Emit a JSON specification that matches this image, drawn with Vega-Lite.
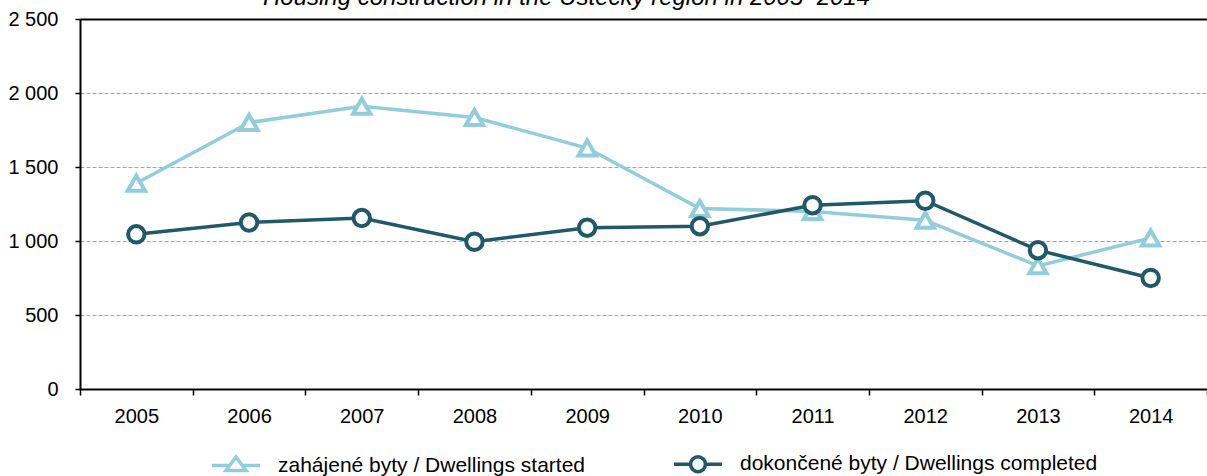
{
  "$schema": "https://vega.github.io/schema/vega-lite/v6.json",
  "autosize": "none",
  "padding": {"left": 80, "top": 19, "right": 0, "bottom": 87},
  "width": 1127,
  "height": 370,
  "background": "white",
  "config": {
    "font": "Liberation Sans",
    "view": {"stroke": null},
    "axis": {"labelFont": "Liberation Sans", "labelColor": "black", "labelFontSize": 20}
  },
  "title": {
    "text": "Housing construction in the Ústecký region in 2005–2014",
    "anchor": "start",
    "frame": "group",
    "dx": 183,
    "dy": 20,
    "offset": 0,
    "baseline": "alphabetic",
    "font": "Liberation Sans",
    "fontSize": 24,
    "fontStyle": "italic",
    "fontWeight": "normal",
    "color": "black"
  },
  "data": {
    "values": [
      {"year": "2005", "series": "zahájené byty / Dwellings started", "value": 1390},
      {"year": "2006", "series": "zahájené byty / Dwellings started", "value": 1800},
      {"year": "2007", "series": "zahájené byty / Dwellings started", "value": 1910},
      {"year": "2008", "series": "zahájené byty / Dwellings started", "value": 1835},
      {"year": "2009", "series": "zahájené byty / Dwellings started", "value": 1628},
      {"year": "2010", "series": "zahájené byty / Dwellings started", "value": 1220},
      {"year": "2011", "series": "zahájené byty / Dwellings started", "value": 1200},
      {"year": "2012", "series": "zahájené byty / Dwellings started", "value": 1140},
      {"year": "2013", "series": "zahájené byty / Dwellings started", "value": 832},
      {"year": "2014", "series": "zahájené byty / Dwellings started", "value": 1020},
      {"year": "2005", "series": "dokončené byty / Dwellings completed", "value": 1045},
      {"year": "2006", "series": "dokončené byty / Dwellings completed", "value": 1125},
      {"year": "2007", "series": "dokončené byty / Dwellings completed", "value": 1155},
      {"year": "2008", "series": "dokončené byty / Dwellings completed", "value": 995},
      {"year": "2009", "series": "dokončené byty / Dwellings completed", "value": 1090},
      {"year": "2010", "series": "dokončené byty / Dwellings completed", "value": 1100},
      {"year": "2011", "series": "dokončené byty / Dwellings completed", "value": 1242},
      {"year": "2012", "series": "dokončené byty / Dwellings completed", "value": 1272},
      {"year": "2013", "series": "dokončené byty / Dwellings completed", "value": 938},
      {"year": "2014", "series": "dokončené byty / Dwellings completed", "value": 750}
    ]
  },
  "encoding": {
    "x": {
      "field": "year", "type": "ordinal", "bandPosition": 0.5,
      "scale": {"type": "band", "paddingInner": 0, "paddingOuter": 0},
      "axis": {
        "title": null, "labelAngle": 0, "tickBand": "extent", "tickSize": 6,
        "tickColor": "black", "tickWidth": 1.5, "domainColor": "black", "domainWidth": 2,
        "labelPadding": 11, "grid": false
      }
    },
    "y": {
      "field": "value", "type": "quantitative",
      "scale": {"domain": [0, 2500], "nice": false},
      "axis": {
        "title": null, "values": [0, 500, 1000, 1500, 2000, 2500],
        "labelExpr": "replace(format(datum.value, ','), ',', ' ')",
        "tickSize": 5, "tickColor": "black", "tickWidth": 1.5,
        "domainColor": "black", "domainWidth": 2, "labelPadding": 17,
        "grid": true,
        "gridColor": {"condition": {"test": "datum.value == 2500", "value": "black"}, "value": "#a6a6a6"},
        "gridDash": {"condition": {"test": "datum.value == 2500", "value": []}, "value": [4, 2]},
        "gridWidth": {"condition": {"test": "datum.value == 2500", "value": 2}, "value": 1}
      }
    }
  },
  "layer": [
    {
      "transform": [{"filter": "datum.series == 'zahájené byty / Dwellings started'"}],
      "mark": {"type": "line", "color": "#92CDDC", "strokeWidth": 3.5}
    },
    {
      "transform": [{"filter": "datum.series == 'zahájené byty / Dwellings started'"}],
      "mark": {"type": "point", "shape": "triangle-up", "size": 300, "filled": false, "fill": "white", "fillOpacity": 1, "stroke": "#92CDDC", "strokeWidth": 4, "opacity": 1}
    },
    {
      "transform": [{"filter": "datum.series == 'dokončené byty / Dwellings completed'"}],
      "mark": {"type": "line", "color": "#215968", "strokeWidth": 3.5}
    },
    {
      "transform": [{"filter": "datum.series == 'dokončené byty / Dwellings completed'"}],
      "mark": {"type": "point", "shape": "circle", "size": 270, "filled": false, "fill": "white", "fillOpacity": 1, "stroke": "#215968", "strokeWidth": 4, "opacity": 1}
    },
    {
      "mark": {"type": "point", "filled": false, "opacity": 0, "size": 2304, "strokeWidth": 3.5},
      "encoding": {
        "color": {
          "field": "series", "type": "nominal",
          "scale": {
            "domain": ["zahájené byty / Dwellings started", "dokončené byty / Dwellings completed"],
            "range": ["#92CDDC", "#215968"]
          },
          "legend": {
            "orient": "none", "legendX": 130, "legendY": 419, "direction": "horizontal", "columns": 2,
            "title": null, "symbolSize": 2304, "symbolStrokeWidth": 3.5,
            "labelFont": "Liberation Sans", "labelFontSize": 21, "labelColor": "black",
            "labelOffset": 16, "columnPadding": 82, "labelLimit": 500,
            "encode": {"symbols": {"update": {"fill": {"value": "white"}, "opacity": {"value": 1}}}}
          }
        },
        "shape": {
          "field": "series", "type": "nominal",
          "scale": {
            "domain": ["zahájené byty / Dwellings started", "dokončené byty / Dwellings completed"],
            "range": [
              "M-1,0H-0.27M0.27,0H1M0,-0.36L0.42,0.2L-0.42,0.2Z",
              "M-1,0H-0.31M0.31,0H1M0.31,0A0.31,0.31 0 1,1 -0.31,0A0.31,0.31 0 1,1 0.31,0Z"
            ]
          },
          "legend": {
            "orient": "none", "legendX": 130, "legendY": 419, "direction": "horizontal", "columns": 2,
            "title": null, "symbolSize": 2304, "symbolStrokeWidth": 3.5,
            "labelFont": "Liberation Sans", "labelFontSize": 21, "labelColor": "black",
            "labelOffset": 16, "columnPadding": 82, "labelLimit": 500,
            "encode": {"symbols": {"update": {"fill": {"value": "white"}, "opacity": {"value": 1}}}}
          }
        }
      }
    }
  ]
}
